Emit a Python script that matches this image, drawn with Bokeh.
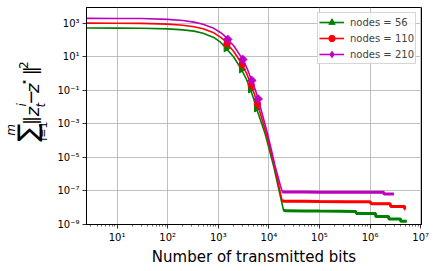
import math
from bokeh.plotting import figure
from bokeh.layouts import row
from bokeh.models import FixedTicker, Legend, LegendItem, Range1d
from bokeh.core.properties import value
from bokeh.embed import file_html
from bokeh.resources import INLINE

# ---------------- data ----------------
series_labels = ["nodes = 56", "nodes = 110", "nodes = 210"]

green_bits = [2.5, 10, 30, 100, 200, 330, 500, 815, 1100, 1285,
              1430, 2000, 2870, 3500, 4330, 5000, 5690, 7000, 8380, 10300,
              12500, 15500, 17800, 19500, 21500, 50000, 100000, 250000, 520000, 540000,
              1280000, 1300000, 2320000, 2350000, 4000000, 4050000, 5300000]
green_err = [500, 497, 488, 445, 390, 330, 244, 138, 72, 45,
             31, 9.8, 1.72, 0.53, 0.11, 0.031, 0.0081, 1.3e-3, 2.66e-4, 2.5e-5,
             2.7e-6, 1.5e-7, 2.3e-8, 7.0e-9, 6.5e-9, 6.4e-9, 6.3e-9, 6.2e-9, 6.0e-9, 4.5e-9,
             4.5e-9, 3.0e-9, 3.0e-9, 2.15e-9, 2.15e-9, 1.55e-9, 1.55e-9]
green_mark_bits = [1430, 2870, 4330, 5690]
green_mark_err = [31, 1.72, 0.11, 0.0081]

red_bits = [2.5, 10, 30, 100, 200, 330, 500, 815, 1100, 1285,
            1490, 2000, 2960, 3700, 4470, 5200, 5940, 7300, 8900, 10800,
            13000, 15000, 16800, 18100, 19500, 50000, 100000, 300000, 1000000, 1050000,
            2500000, 2550000, 4800000, 4850000, 5000000]
red_err = [980, 975, 955, 860, 735, 600, 450, 260, 146, 100,
           58, 21, 3.5, 0.87, 0.2, 0.055, 0.015, 1.9e-3, 2.66e-4, 2.6e-5,
           2.7e-6, 3.8e-7, 8e-8, 2.8e-8, 2.45e-8, 2.4e-8, 2.35e-8, 2.3e-8, 2.25e-8, 1.75e-8,
           1.75e-8, 1.2e-8, 1.2e-8, 8.5e-9, 8.5e-9]
red_mark_bits = [1490, 2960, 4470, 5940]
red_mark_err = [58, 3.5, 0.2, 0.015]

mag_bits = [2.5, 10, 30, 100, 200, 330, 500, 815, 1100, 1285,
            1540, 2000, 3050, 3800, 4590, 5300, 6150, 7600, 9380, 11300,
            13400, 15200, 16800, 18300, 19800, 50000, 100000, 500000, 1860000, 1900000,
            2950000]
mag_err = [1880, 1870, 1840, 1650, 1400, 1130, 835, 480, 274, 190,
           105, 46, 6.8, 1.66, 0.38, 0.12, 0.03, 2.8e-3, 2.66e-4, 2.5e-5,
           2.7e-6, 6.8e-7, 2.2e-7, 9.5e-8, 8.6e-8, 8.5e-8, 8.4e-8, 8.3e-8, 8.2e-8, 6.5e-8,
           6.5e-8]
mag_mark_bits = [1540, 3050, 4590, 6150]
mag_mark_err = [105, 6.8, 0.38, 0.03]

plateau_start = 23  # index where the noisy floor begins

x_ticks = [1e1, 1e2, 1e3, 1e4, 1e5, 1e6, 1e7]
x_tick_labels = ["10\u00b9", "10\u00b2", "10\u00b3", "10\u2074", "10\u2075", "10\u2076", "10\u2077"]
y_ticks = [1e-9, 1e-7, 1e-5, 1e-3, 1e-1, 1e1, 1e3]
y_tick_labels = ["10\u207b\u2079", "10\u207b\u2077", "10\u207b\u2075", "10\u207b\u00b3",
                 "10\u207b\u00b9", "10\u00b9", "10\u00b3"]
x_title = "Number of transmitted bits"

FONT = "DejaVu Sans"
H = 271
LEFT_W = 50

# ---------------- left strip holding the rotated math y-title ----------------
pl = figure(width=LEFT_W, height=H, x_range=Range1d(0, LEFT_W), y_range=Range1d(0, H),
            x_axis_location=None, y_axis_location=None, min_border=0,
            output_backend="svg", toolbar_location=None)
pl.outline_line_color = None
pl.grid.visible = False
pl.background_fill_color = "white"
pl.border_fill_color = "white"

R = math.pi / 2
# (text, page-x centre, page-y centre)
groups = [
    ([("\u2211", 27, 156)], "27px", "normal"),
    ([("\u2016", 29.5, 141), ("\u2212", 30, 112), ("\u2016", 29.5, 79)], "18px", "normal"),
    ([("z", 31.5, 130), ("z", 31.5, 101)], "18px", "italic"),
    ([("i=1", 42.5, 154.5)], "11px", "normal"),
    ([("m", 10.5, 153), ("i", 21, 121.5), ("t", 40.5, 122)], "12px", "italic"),
    ([("\u22c6", 23.5, 93), ("2", 22.5, 72)], "12px", "normal"),
]
for parts, size, style in groups:
    pl.text(x=[q[1] for q in parts], y=[H - q[2] for q in parts], text=[q[0] for q in parts],
            angle=R, text_font=value(FONT), text_font_size=size, text_font_style=style,
            text_color="black", text_align="center", text_baseline="middle")

# ---------------- main plot ----------------
p = figure(width=436 - LEFT_W, height=H, x_axis_type="log", y_axis_type="log",
           x_range=Range1d(2.48, 1.04e7), y_range=Range1d(1e-9, 8.4e3),
           output_backend="svg", toolbar_location=None,
           min_border_left=86 - LEFT_W, min_border_right=15, min_border_top=7, min_border_bottom=47)
p.background_fill_color = "white"
p.border_fill_color = "white"
p.outline_line_color = "black"
p.outline_line_width = 1
p.outline_line_alpha = 1

x_minor = [m * 10 ** k for k in range(0, 7) for m in range(2, 10)]
xt = FixedTicker(ticks=x_ticks, minor_ticks=x_minor)
yt = FixedTicker(ticks=y_ticks, minor_ticks=[])
p.xaxis.ticker = xt
p.yaxis.ticker = yt
p.xgrid.ticker = xt
p.ygrid.ticker = yt
p.xaxis.major_label_overrides = {float(v): s for v, s in zip(x_ticks, x_tick_labels)}
p.yaxis.major_label_overrides = {float(v): s for v, s in zip(y_ticks, y_tick_labels)}

for ax in (p.xaxis, p.yaxis):
    ax.axis_line_color = "black"
    ax.axis_line_width = 1
    ax.major_tick_line_color = "black"
    ax.minor_tick_line_color = "black"
    ax.major_tick_line_width = 0.8
    ax.minor_tick_line_width = 0.6
    ax.major_tick_in = 0
    ax.major_tick_out = 4
    ax.minor_tick_in = 0
    ax.minor_tick_out = 2
    ax.major_label_text_font = FONT
    ax.major_label_text_font_size = "10px"
    ax.major_label_text_color = "black"
    ax.major_label_standoff = 3
p.yaxis.minor_tick_out = 0

p.xaxis.axis_label = x_title
p.xaxis.axis_label_text_font = FONT
p.xaxis.axis_label_text_font_size = "15px"
p.xaxis.axis_label_text_font_style = "normal"
p.xaxis.axis_label_text_color = "black"
p.xaxis.axis_label_standoff = 2

for g in (p.xgrid, p.ygrid):
    g.grid_line_color = "#b0b0b0"
    g.grid_line_width = 0.8

NAN = float("nan")
series = [
    (green_bits, green_err, green_mark_bits, green_mark_err, "#008000", "triangle", 7, -math.pi / 2, None),
    (red_bits, red_err, red_mark_bits, red_mark_err, "#ff0000", "circle", 6.5, 0.0, None),
    (mag_bits, mag_err, mag_mark_bits, mag_mark_err, "#bf00bf", "square", 6, math.pi / 4, "diamond"),
]
items = []
for (bx, by, mx, my, col, mk, sz, ang, legend_mk), lab in zip(series, series_labels):
    lr = p.line(bx, by, line_color=col, line_width=1.6)
    p.line(bx[plateau_start:], by[plateau_start:], line_color=col, line_width=3)
    sr = p.scatter(mx, my, marker=mk, size=sz, angle=ang, fill_color=col, line_color=col)
    if legend_mk is not None:
        # swatch-only marker (legend swatches are drawn unrotated); its point is NaN, so not drawn
        sr = p.scatter(x=[NAN], y=[NAN], marker=legend_mk, size=sz, fill_color=col, line_color=col)
    items.append(LegendItem(label=lab, renderers=[lr, sr]))

legend = Legend(items=items, location="top_right", margin=5, padding=1, spacing=-1,
                glyph_width=25, glyph_height=16, label_height=15, label_standoff=6,
                label_text_font=FONT, label_text_font_size="10px",
                border_line_color="#cccccc", border_line_alpha=0.8, border_line_width=1,
                background_fill_color="white", background_fill_alpha=0.8)
p.add_layout(legend)

layout = row(pl, p)
open("out.html", "w").write(file_html(layout, INLINE))
